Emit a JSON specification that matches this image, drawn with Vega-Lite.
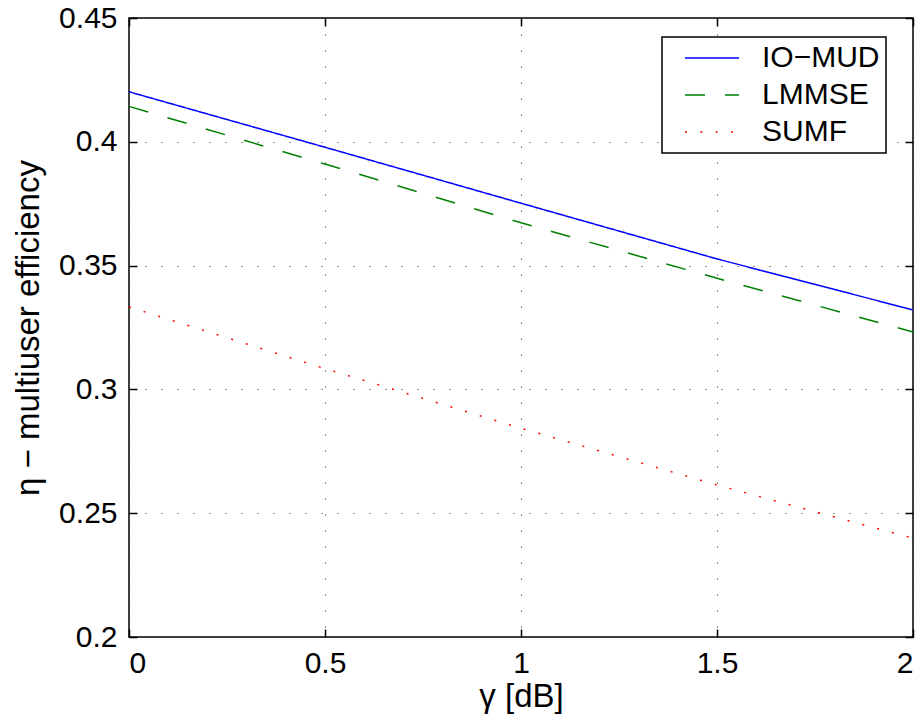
{
  "$schema": "https://vega.github.io/schema/vega-lite/v6.json",
  "width": 784,
  "height": 619,
  "autosize": {"type": "none"},
  "padding": {"left": 129, "top": 18, "right": 11, "bottom": 82},
  "background": "white",
  "config": {
    "font": "Liberation Sans",
    "view": {"stroke": "black", "strokeWidth": 1.5},
    "axis": {
      "domain": false,
      "tickColor": "black",
      "tickWidth": 1.5,
      "tickSize": -8,
      "labelColor": "black",
      "labelFontSize": 30,
      "labelFont": "Liberation Sans",
      "titleColor": "black",
      "titleFontSize": 33,
      "titleFont": "Liberation Sans",
      "titleFontWeight": "normal",
      "gridColor": "#222222",
      "gridDash": [1, 15],
      "gridWidth": 1,
      "gridOpacity": 1
    },
    "legend": {
      "orient": "none",
      "legendX": 533,
      "legendY": 19,
      "strokeColor": "black",
      "strokeWidth": 1.5,
      "fillColor": "white",
      "padding": 6,
      "symbolType": "M-2.7,0H2.7",
      "symbolSize": 400,
      "symbolStrokeWidth": 1.5,
      "symbolOffset": 29,
      "labelFontSize": 30,
      "labelFont": "Liberation Sans",
      "labelColor": "black",
      "labelOffset": 35,
      "rowPadding": 7,
      "title": null
    }
  },
  "data": {
    "values": [
      {"gamma": 0, "eta": 0.4202, "scheme": "IO−MUD"},
      {"gamma": 0.5, "eta": 0.3978, "scheme": "IO−MUD"},
      {"gamma": 1, "eta": 0.3752, "scheme": "IO−MUD"},
      {"gamma": 1.5, "eta": 0.3527, "scheme": "IO−MUD"},
      {"gamma": 2, "eta": 0.3321, "scheme": "IO−MUD"},
      {"gamma": 0, "eta": 0.4143, "scheme": "LMMSE"},
      {"gamma": 0.5, "eta": 0.3910, "scheme": "LMMSE"},
      {"gamma": 1, "eta": 0.3673, "scheme": "LMMSE"},
      {"gamma": 1.5, "eta": 0.3449, "scheme": "LMMSE"},
      {"gamma": 2, "eta": 0.3232, "scheme": "LMMSE"},
      {"gamma": 0, "eta": 0.3333, "scheme": "SUMF"},
      {"gamma": 0.5, "eta": 0.3084, "scheme": "SUMF"},
      {"gamma": 1, "eta": 0.2843, "scheme": "SUMF"},
      {"gamma": 1.5, "eta": 0.2614, "scheme": "SUMF"},
      {"gamma": 2, "eta": 0.2399, "scheme": "SUMF"}
    ]
  },
  "layer": [
    {
      "mark": {"type": "line", "strokeWidth": 1.5, "strokeCap": "butt"},
      "encoding": {
        "x": {
          "field": "gamma",
          "type": "quantitative",
          "scale": {"domain": [0, 2], "nice": false, "zero": false},
          "axis": {
            "orient": "bottom",
            "values": [0, 0.5, 1, 1.5, 2],
            "format": "~g",
            "labelPadding": 19,
            "title": "γ [dB]",
            "titleBaseline": "middle",
            "titleY": 59,
            "grid": true
          }
        },
        "y": {
          "field": "eta",
          "type": "quantitative",
          "scale": {"domain": [0.2, 0.45], "nice": false, "zero": false},
          "axis": {
            "orient": "left",
            "values": [0.2, 0.25, 0.3, 0.35, 0.4, 0.45],
            "format": "~g",
            "labelPadding": 20,
            "title": "η − multiuser efficiency",
            "titleBaseline": "middle",
            "titleX": -101,
            "grid": true
          }
        },
        "color": {
          "field": "scheme",
          "type": "nominal",
          "scale": {"domain": ["IO−MUD", "LMMSE", "SUMF"], "range": ["#0000ff", "#008000", "#ff0000"]},
          "legend": {"labelExpr": "datum.label + '\u00a0\u00a0\u00a0\u00a0'"}
        },
        "strokeDash": {
          "field": "scheme",
          "type": "nominal",
          "scale": {"domain": ["IO−MUD", "LMMSE", "SUMF"], "range": [[1, 0], [20, 20], [2, 13.3]]},
          "legend": {"labelExpr": "datum.label + '\u00a0\u00a0\u00a0\u00a0'"}
        }
      }
    },
    {
      "mark": {"type": "point", "opacity": 0},
      "encoding": {
        "x": {
          "field": "gamma",
          "type": "quantitative",
          "axis": {"orient": "top", "values": [0, 0.5, 1, 1.5, 2], "labels": false, "title": null, "grid": false}
        },
        "y": {
          "field": "eta",
          "type": "quantitative",
          "axis": {"orient": "right", "values": [0.2, 0.25, 0.3, 0.35, 0.4, 0.45], "labels": false, "title": null, "grid": false}
        }
      }
    }
  ],
  "resolve": {"axis": {"x": "independent", "y": "independent"}}
}
